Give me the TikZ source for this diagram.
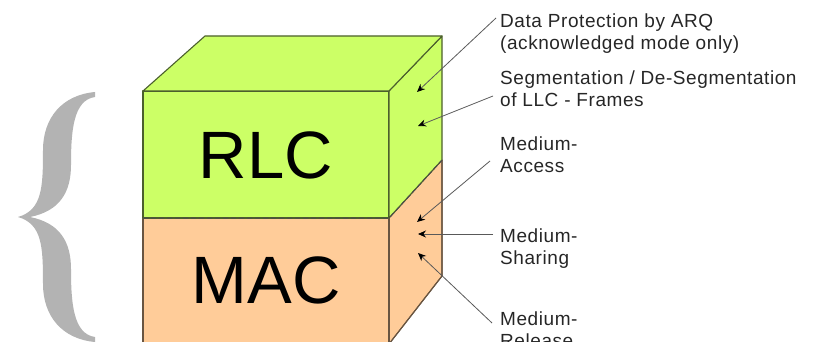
\documentclass[tikz,border=0pt]{standalone}
\usepackage{fontspec}
\setmainfont{Liberation Sans}
\newfontfamily\labfont[LetterSpace=3]{Liberation Sans}
\usetikzlibrary{arrows.meta}
\definecolor{rlcgreen}{HTML}{CCFF66}
\definecolor{macorange}{HTML}{FFCC99}
\definecolor{greenedge}{RGB}{75,95,45}
\definecolor{orangeedge}{RGB}{105,85,65}
\definecolor{bracegray}{HTML}{B3B3B3}
\tikzset{
  gface/.style={fill=rlcgreen, draw=greenedge, line width=1.1pt, line join=round},
  oface/.style={fill=macorange, draw=orangeedge, line width=1.1pt, line join=round},
  sep/.style={draw=black!70, dash pattern=on 5pt off 3pt, line width=1pt},
  big/.style={font=\fontsize{67}{67}\selectfont, inner sep=0pt},
  lab/.style={font=\labfont\fontsize{19}{22}\selectfont, align=left, anchor=base west, inner sep=0pt, text=black!85},
  arr/.style={draw=black!65, line width=0.8pt, -{Stealth[length=8pt,width=7pt,color=black]}}
}
\begin{document}
\begin{tikzpicture}[x=1pt,y=-1pt]
\useasboundingbox (0,0) rectangle (816,342);
\clip (0,0) rectangle (816,342);
% brace
\fill[bracegray] (95,92) .. controls (62,95) and (43,118) .. (43,150)
  .. controls (43,188) and (42,210) .. (18,217)
  .. controls (42,224) and (43,246) .. (43,284)
  .. controls (43,316) and (62,339) .. (95,342)
  -- (95,337) .. controls (73,334) and (71,302) .. (71,269)
  .. controls (71,242) and (60,223) .. (30,217)
  .. controls (60,211) and (71,192) .. (71,165)
  .. controls (71,132) and (73,100) .. (95,97) -- cycle;
% cube
\coordinate (ftl) at (143,91);
\coordinate (ftr) at (389,91);
\coordinate (fml) at (143,218);
\coordinate (fmr) at (389,218);
\coordinate (fbl) at (143,344);
\coordinate (fbr) at (389,344);
\coordinate (btl) at (205,36);
\coordinate (btr) at (442,36);
\coordinate (bmr) at (442,160);
\coordinate (bbr) at (442,276);
\path[oface] (fml) -- (fmr) -- (fbr) -- (fbl) -- cycle;
\path[oface] (fmr) -- (bmr) -- (bbr) -- (fbr) -- cycle;
\path[gface] (ftl) -- (ftr) -- (fmr) -- (fml) -- cycle;
\path[gface] (ftr) -- (btr) -- (bmr) -- (fmr) -- cycle;
\path[gface] (ftl) -- (btl) -- (btr) -- (ftr) -- cycle;
\draw[orangeedge, line width=1.1pt] (fml) -- (fbl);
\draw[orangeedge, line width=1.1pt] (fmr) -- (fbr);
\draw[orangeedge, line width=1.1pt] (bmr) -- (bbr) -- (fbr);
\draw[sep] (fml) -- (fmr) -- (bmr);
\node[big] (rlc) at (266,155) {RLC};
\node[big] (mac) at (266,280) {MAC};
% labels (anchor = baseline of last line)
\node[lab] (l1) at (500,50) {Data Protection by ARQ\\(acknowledged mode only)};
\node[lab] (l2) at (500,107) {Segmentation / De-Segmentation\\of LLC - Frames};
\node[lab] (l3) at (500,172) {Medium-\\Access};
\node[lab] (l4) at (500,264) {Medium-\\Sharing};
\node[lab] (l5) at (500,347) {Medium-\\Release};
% arrows
\coordinate (s1) at (496,18);  \coordinate (t1) at (417,92);
\coordinate (s2) at (493,96);  \coordinate (t2) at (418,126);
\coordinate (s3) at (490,161); \coordinate (t3) at (417,222);
\coordinate (s4) at (493,234); \coordinate (t4) at (418,234);
\coordinate (s5) at (492,323); \coordinate (t5) at (418,253);
\draw[arr] (s1) -- (t1);
\draw[arr] (s2) -- (t2);
\draw[arr] (s3) -- (t3);
\draw[arr] (s4) -- (t4);
\draw[arr] (s5) -- (t5);
\end{tikzpicture}
\end{document}
